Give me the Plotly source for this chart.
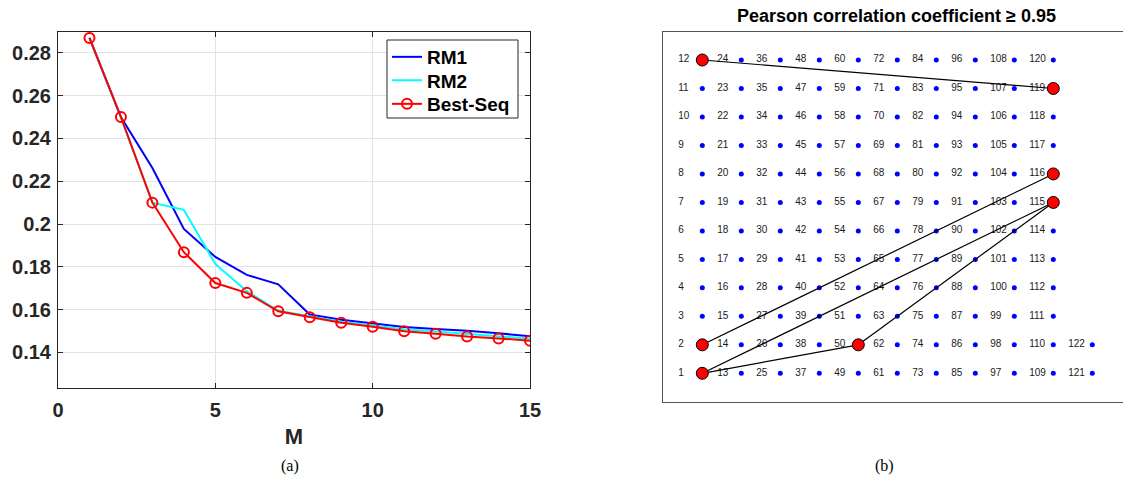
import plotly.graph_objects as go

# ---------------- data: panel (a) ----------------
M = list(range(1, 16))
rm1 = [0.287, 0.250, 0.2262, 0.1977, 0.1846, 0.1762, 0.1718, 0.1577, 0.1552,
       0.1534, 0.1518, 0.1509, 0.1501, 0.1489, 0.1475]
rm2 = [0.287, 0.250, 0.2100, 0.2066, 0.1813, 0.1686, 0.1594, 0.1568, 0.1543,
       0.1526, 0.1508, 0.1497, 0.1486, 0.1475, 0.1464]
best_seq = [0.287, 0.250, 0.2100, 0.1868, 0.1724, 0.1678, 0.1592, 0.1564, 0.1538,
            0.1520, 0.1499, 0.1487, 0.1474, 0.1465, 0.1454]
y_ticks = [0.14, 0.16, 0.18, 0.20, 0.22, 0.24, 0.26, 0.28]
y_ticktext = ["0.14", "0.16", "0.18", "0.2", "0.22", "0.24", "0.26", "0.28"]
x_ticks = [0, 5, 10, 15]

# ---------------- data: panel (b) ----------------
n_rows = 12
n_nodes = 122
selected = [1, 2, 12, 50, 115, 116, 119]
edges = [(12, 119), (2, 116), (1, 115), (1, 50), (50, 115)]

def pos(k):
    return (k - 1) // n_rows, (k - 1) % n_rows

nodes = list(range(1, n_nodes + 1))
node_x = [pos(k)[0] for k in nodes]
node_y = [pos(k)[1] for k in nodes]
LABEL_OFFSET = 0.62

INK = "#262626"
SANS = "Liberation Sans, Arial, sans-serif"
SERIF = "Liberation Serif, Times New Roman, serif"
W, H = 1123, 482

fig = go.Figure()

# panel (a)
fig.add_trace(go.Scatter(x=M, y=rm1, mode="lines", name="RM1", legend="legend",
                         line=dict(color="#0000FF", width=2), xaxis="x", yaxis="y"))
fig.add_trace(go.Scatter(x=M, y=rm2, mode="lines", name="RM2", legend="legend2",
                         line=dict(color="#00FFFF", width=2), xaxis="x", yaxis="y"))
fig.add_trace(go.Scatter(x=M, y=best_seq, mode="lines+markers", name="Best-Seq",
                         legend="legend3",
                         line=dict(color="#FF0000", width=2),
                         marker=dict(symbol="circle-open", size=10, color="#FF0000",
                                     line=dict(width=2, color="#FF0000")),
                         xaxis="x", yaxis="y"))

# panel (b)
fig.add_trace(go.Scatter(x=[x - LABEL_OFFSET for x in node_x], y=node_y,
                         mode="text", text=[str(k) for k in nodes],
                         textposition="middle right",
                         textfont=dict(family=SANS, size=10, color="#1a1a1a"),
                         showlegend=False, hoverinfo="skip", xaxis="x2", yaxis="y2"))
fig.add_trace(go.Scatter(x=node_x, y=node_y, mode="markers",
                         marker=dict(size=5, color="#0000FF"),
                         showlegend=False, xaxis="x2", yaxis="y2"))
for a, b in edges:
    fig.add_trace(go.Scatter(x=[pos(a)[0], pos(b)[0]], y=[pos(a)[1], pos(b)[1]],
                             mode="lines", line=dict(color="black", width=1.2),
                             showlegend=False, hoverinfo="skip", xaxis="x2", yaxis="y2"))
fig.add_trace(go.Scatter(x=[pos(k)[0] for k in selected], y=[pos(k)[1] for k in selected],
                         mode="markers",
                         marker=dict(size=12, color="#FF0000", line=dict(color="black", width=1)),
                         showlegend=False, xaxis="x2", yaxis="y2"))

def leg(yc):
    return dict(x=387 / W, y=1 - yc / H, xanchor="left", yanchor="middle",
                bgcolor="rgba(0,0,0,0)", borderwidth=0,
                font=dict(family=SANS, size=19, color="black", weight="bold"),
                itemwidth=30)

fig.update_layout(
    template="none",
    width=W, height=H,
    margin=dict(l=0, r=0, t=0, b=0, autoexpand=False),
    paper_bgcolor="white", plot_bgcolor="white",
    showlegend=True,
    legend=leg(57), legend2=leg(80.5), legend3=leg(104),
    shapes=[dict(type="rect", xref="paper", yref="paper",
                 x0=387 / W, x1=518 / W, y0=1 - 118 / H, y1=1 - 40 / H,
                 fillcolor="white", line=dict(color=INK, width=1), layer="above")],
    xaxis=dict(domain=[58 / W, 530 / W], range=[0, 15], tickvals=x_ticks,
               automargin=False,
               showgrid=True, gridcolor="#e3e3e3", gridwidth=1,
               showline=True, linecolor=INK, linewidth=1, mirror="ticks",
               ticks="inside", ticklen=5, tickcolor=INK, zeroline=False,
               ticklabelstandoff=4,
               tickfont=dict(family=SANS, size=20, color=INK, weight="bold"),
               title=dict(text="M", font=dict(family=SANS, size=22, color=INK, weight="bold"),
                          standoff=8),
               anchor="y"),
    yaxis=dict(domain=[1 - 388 / H, 1 - 32 / H], range=[0.12331, 0.2898],
               automargin=False,
               tickvals=y_ticks, ticktext=y_ticktext,
               showgrid=True, gridcolor="#e3e3e3", gridwidth=1,
               showline=True, linecolor=INK, linewidth=1, mirror="ticks",
               ticks="inside", ticklen=5, tickcolor=INK, zeroline=False,
               ticklabelstandoff=2,
               tickfont=dict(family=SANS, size=20, color=INK, weight="bold"),
               anchor="x"),
    xaxis2=dict(domain=[663 / W, 1.0], range=[-1.008, 10.787],
                automargin=False,
                showgrid=False, zeroline=False, showticklabels=False, ticks="",
                showline=True, linecolor="#555555", linewidth=1, mirror=True,
                anchor="y2"),
    yaxis2=dict(domain=[1 - 401.7 / H, 1 - 31.7 / H], range=[-0.997, 11.994],
                automargin=False,
                showgrid=False, zeroline=False, showticklabels=False, ticks="",
                showline=True, linecolor="#555555", linewidth=1, mirror=False,
                anchor="x2"),
    annotations=[
        dict(text="Pearson correlation coefficient ≥ 0.95", x=896.7 / W, y=1 - 16 / H,
             xref="paper", yref="paper", showarrow=False, xanchor="center", yanchor="middle",
             font=dict(family=SANS, size=18, color="black", weight="bold")),
        dict(text="(a)", x=290 / W, y=1 - 466 / H, xref="paper", yref="paper",
             showarrow=False, xanchor="center", yanchor="middle",
             font=dict(family=SERIF, size=16, color="black")),
        dict(text="(b)", x=884 / W, y=1 - 466 / H, xref="paper", yref="paper",
             showarrow=False, xanchor="center", yanchor="middle",
             font=dict(family=SERIF, size=16, color="black")),
    ],
)

fig.write_html("out.html", config={"displayModeBar": False},
               post_script="document.body.style.margin='0';")
